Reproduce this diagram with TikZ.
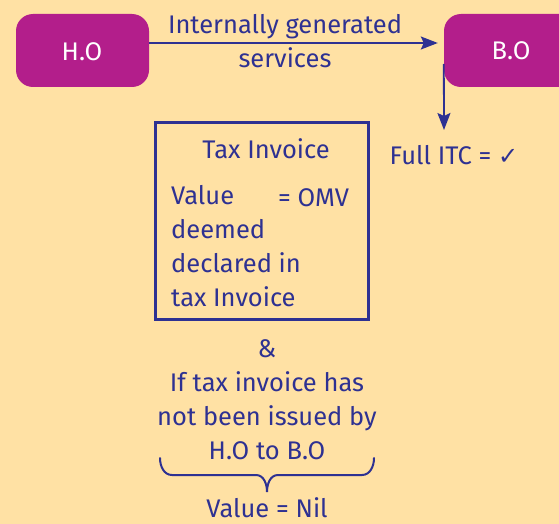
\documentclass[tikz,border=0pt]{standalone}
\usepackage{fontspec}
\setmainfont{Fira Sans}
\newfontfamily\symfont{DejaVu Sans}
\usetikzlibrary{arrows.meta}
\definecolor{bg}{HTML}{FFE1A4}
\definecolor{plum}{HTML}{B31E8B}
\definecolor{ink}{HTML}{2E3192}
\begin{document}
\begin{tikzpicture}[x=1pt,y=-1pt,
  every node/.style={font=\fontsize{25.5}{34}\selectfont, text=ink, inner sep=0pt},
  office/.style={fill=plum, rounded corners=17pt, minimum width=133pt,
    minimum height=73pt, text=white},
  conn/.style={draw=ink, line width=1.8pt,
    -{Stealth[length=17pt,width=13pt,inset=3pt]}},
  frame/.style={draw=ink, line width=2.2pt, minimum width=213pt, minimum height=197pt}]
  % background and page size
  \fill[bg] (0,0) rectangle (559,524);
  \useasboundingbox (0,0) rectangle (559,524);

  % offices
  \node[office] (ho) at (82.5,50.5) {};
  \node[text=white] at (82,52) {H.O};
  \node[office] (bo) at (510.5,50.5) {};
  \node[text=white] at (511,51) {B.O};

  % supply of services from head office to branch
  \draw[conn] ([yshift=7.5pt]ho.east) -- ([yshift=7.5pt,xshift=-6pt]bo.west);
  \node[align=center] (svc) at (285,41) {Internally generated\\services};

  % input tax credit at the branch
  \coordinate (itctop) at (444,130);
  \draw[conn] ([yshift=-13.5pt]bo.west) -- (itctop);
  \node (itc) at (454,155) {Full ITC = {\symfont\fontsize{24}{26}\selectfont ✓}};

  % tax invoice box
  \node[frame] (inv) at (262,221) {};
  \node (invt) at (266,149) {Tax Invoice};
  \node[anchor=west, align=left] (val) at (171,246)
    {Value\\deemed\\declared in\\tax Invoice};
  \node[anchor=west] (omv) at (278,198) {= OMV};

  % condition below
  \node[align=center] (cond) at (267,400)
    {\&\\If tax invoice has\\not been issued by\\H.O to B.O};

  % brace under the condition
  \draw[ink, line width=2pt, line cap=round]
    (160,458) to[out=-90,in=180] (172,475) -- (256,475)
    to[out=0,in=90] (267,492) to[out=90,in=180] (278,475)
    -- (362,475) to[out=0,in=-90] (374,458);
  \node (nil) at (267,508) {Value = Nil};
\end{tikzpicture}
\end{document}
